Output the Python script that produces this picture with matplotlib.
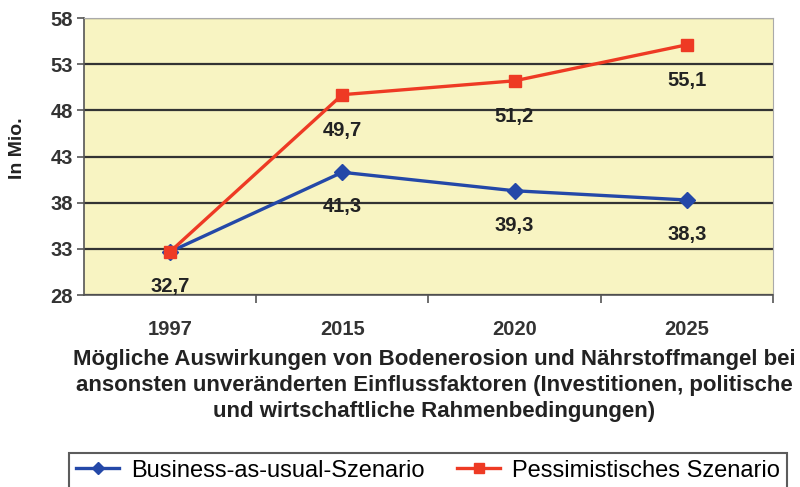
import matplotlib
matplotlib.use("Agg")
import matplotlib.pyplot as plt

categories = ["1997", "2015", "2020", "2025"]
business = [32.7, 41.3, 39.3, 38.3]
pessimistic = [32.7, 49.7, 51.2, 55.1]
yticks = [28, 33, 38, 43, 48, 53, 58]
ylabel = "In Mio."
caption = ("Mögliche Auswirkungen von Bodenerosion und Nährstoffmangel bei\n"
           "ansonsten unveränderten Einflussfaktoren (Investitionen, politische\n"
           "und wirtschaftliche Rahmenbedingungen)")
series_names = ["Business-as-usual-Szenario", "Pessimistisches Szenario"]

plt.rcParams['font.family'] = ['Liberation Sans', 'DejaVu Sans']

fig = plt.figure(figsize=(8, 4.87), dpi=100)
ax = fig.add_axes([0.105, 0.394, 0.861, 0.569])
ax.set_facecolor('#f8f4c2')

x = list(range(len(categories)))
l1, = ax.plot(x, business, color='#2448a8', lw=2.4, marker='D', ms=8, label=series_names[0], zorder=3)
l2, = ax.plot(x, pessimistic, color='#ee3a24', lw=2.4, marker='s', ms=9, label=series_names[1], zorder=4)

def fmt(v):
    return f"{v:.1f}".replace('.', ',')

for xi, v in zip(x, business):
    ax.annotate(fmt(v), (xi, v), xytext=(0, -25), textcoords='offset points',
                ha='center', va='center', fontsize=14.5, fontweight='bold', color='#222222')
for xi, v in zip(x[1:], pessimistic[1:]):
    ax.annotate(fmt(v), (xi, v), xytext=(0, -26), textcoords='offset points',
                ha='center', va='center', fontsize=14.5, fontweight='bold', color='#222222')

ax.set_xlim(-0.5, len(categories) - 0.5)
ax.set_ylim(28, 58)
ax.set_yticks(yticks)
ax.set_yticklabels([str(t) for t in yticks], fontsize=14.5, fontweight='bold', color='#333333')
ax.set_xticks(x)
ax.set_xticklabels(categories, fontsize=14.5, fontweight='bold', color='#333333')
ax.tick_params(axis='x', length=0, pad=18)
ax.tick_params(axis='y', length=5, width=1.2, color='#555555', pad=3)
ax.set_xticks([i + 0.5 for i in range(len(categories))], minor=True)
ax.tick_params(axis='x', which='minor', length=6, width=1.2, color='#555555')
ax.yaxis.grid(True, color='#333333', lw=1.6)
ax.set_axisbelow(True)
for s in ['top', 'right']:
    ax.spines[s].set_color('#aaaaaa')
ax.spines['left'].set_color('#555555')
ax.spines['left'].set_linewidth(1.2)
ax.spines['bottom'].set_color('#555555')
ax.spines['bottom'].set_linewidth(1.2)

fig.text(0.0225, 0.696, ylabel, rotation=90, ha='center', va='center',
         fontsize=14, fontweight='bold', color='#222222')
fig.text(0.5425, 0.209, caption, ha='center', va='center', fontsize=16,
         fontweight='bold', color='#222222', linespacing=1.3)

leg = fig.legend(handles=[l1, l2], loc='lower center', bbox_to_anchor=(0.535, -0.028),
                 ncol=2, frameon=True, fancybox=False, fontsize=17,
                 handlelength=1.8, handletextpad=0.5, columnspacing=1.4,
                 markerscale=0.8, borderpad=0.3, edgecolor='#333333')
leg.get_frame().set_linewidth(1.5)

fig.savefig("out.png", dpi=100)
